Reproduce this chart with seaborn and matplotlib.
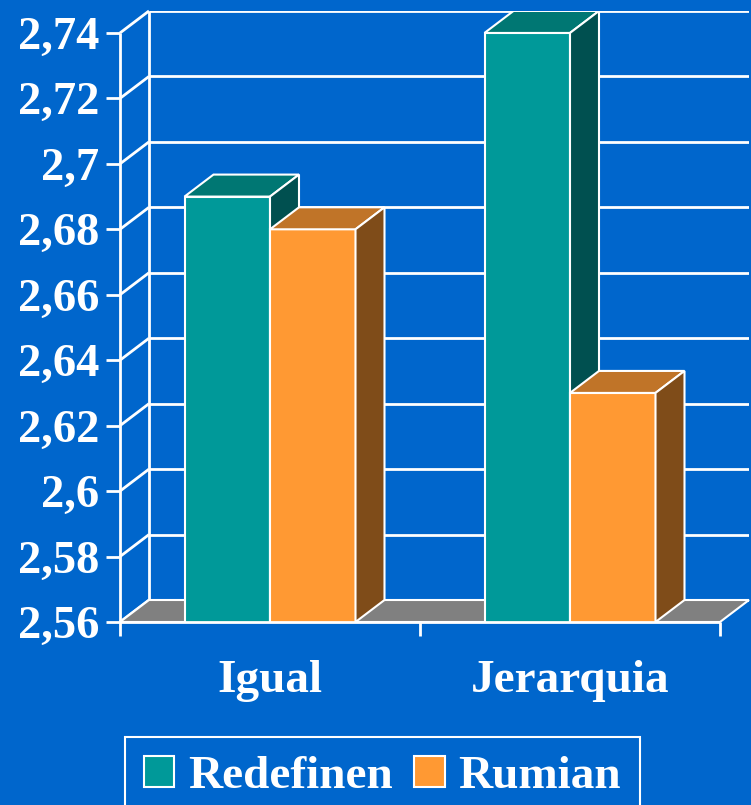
import numpy as np
import pandas as pd
import seaborn as sns
import matplotlib.pyplot as plt
from matplotlib.patches import Polygon, Patch

# data
categories = ['Igual', 'Jerarquia']
series = ['Redefinen', 'Rumian']
redefinen = [2.69, 2.74]
rumian = [2.68, 2.63]
yticks = [2.56, 2.58, 2.60, 2.62, 2.64, 2.66, 2.68, 2.70, 2.72, 2.74]
ytick_labels = ['2,56', '2,58', '2,6', '2,62', '2,64', '2,66', '2,68', '2,7', '2,72', '2,74']

bg = '#0066CC'
front_col = {'Redefinen': '#009999', 'Rumian': '#FF9933'}
top_col = {'Redefinen': '#007773', 'Rumian': '#C07428'}
side_col = {'Redefinen': '#005050', 'Rumian': '#7F4C19'}

df = pd.DataFrame({
    'cat': categories * 2,
    'serie': [series[0]] * 2 + [series[1]] * 2,
    'val': redefinen + rumian,
})

font = {'family': 'Liberation Serif', 'weight': 'bold'}

fig = plt.figure(figsize=(7.51, 8.05), dpi=100, facecolor=bg)
ax = fig.add_axes([120 / 751, (805 - 622) / 805, (749 - 120) / 751, (622 - 11) / 805])
ax.set_facecolor(bg)

sns.barplot(data=df, x='cat', y='val', hue='serie', palette=front_col, width=0.57,
            saturation=1, edgecolor='white', linewidth=1.5, ax=ax, legend=False)

# pseudo 3d: depth offset in data units
ymin, ymax = 2.56, 2.74
xpx, ypx = 300.0, 3272.5
dx, dy = 29 / xpx, 22 / ypx
x0 = -0.5
x1 = 1.5
ax.set_xlim(x0, x0 + 629 / xpx)
ax.set_ylim(ymin, ymin + 611 / ypx)

w = dict(color='white', lw=2, solid_capstyle='butt')
# back wall + left wall gridlines
for t in yticks:
    ax.plot([x0 + dx, x1 + dx], [t + dy, t + dy], zorder=0.5, **w)
    ax.plot([x0, x0 + dx], [t, t + dy], zorder=0.5, clip_on=False, **w)
ax.plot([x0 + dx, x0 + dx], [ymin + dy, ymax + dy], zorder=0.5, **w)

# floor
ax.add_patch(Polygon([(x0, ymin), (x1, ymin), (x1 + dx, ymin + dy), (x0 + dx, ymin + dy)],
                     closed=True, fc='#808080', ec='white', lw=1.5, zorder=0.8, clip_on=False))

# bar tops and sides
for i, p in enumerate(ax.patches[:4]):
    s = series[i // 2]
    z = 2 + i // 2
    p.set_zorder(z)
    bx0 = p.get_x()
    bx1 = bx0 + p.get_width()
    v = p.get_height()
    ax.add_patch(Polygon([(bx0, v), (bx1, v), (bx1 + dx, v + dy), (bx0 + dx, v + dy)],
                         closed=True, fc=top_col[s], ec='white', lw=1.5, zorder=z))
    ax.add_patch(Polygon([(bx1, ymin), (bx1, v), (bx1 + dx, v + dy), (bx1 + dx, ymin + dy)],
                         closed=True, fc=side_col[s], ec='white', lw=1.5, zorder=z))

# front axes lines
ax.plot([x0, x0], [ymin, ymax], zorder=5, clip_on=False, **w)
ax.plot([x0, x1], [ymin, ymin], zorder=5, clip_on=False, **w)

for sp in ax.spines.values():
    sp.set_visible(False)

ax.set_yticks(yticks, ytick_labels)
ax.tick_params(axis='y', length=10, width=2, color='white', pad=5, labelcolor='white', labelsize=33.5)
ax.set_xticks([0, 1], categories)
ax.set_xticks([x0, 0.5, x1], minor=True)
ax.tick_params(axis='x', which='major', length=0, pad=27, labelcolor='white', labelsize=34)
ax.tick_params(axis='x', which='minor', length=10, width=2, color='white')
for lab in ax.get_yticklabels() + ax.get_xticklabels():
    lab.set_fontfamily('Liberation Serif')
    lab.set_fontweight('bold')
ax.set_xlabel('')
ax.set_ylabel('')

handles = [Patch(fc=front_col[s], ec='white', lw=1.5) for s in series]
leg = fig.legend(handles=handles, labels=series, loc='upper left',
                 bbox_to_anchor=(125 / 751, 1 - 737 / 805), ncol=2,
                 prop=dict(font, size=34), labelcolor='white',
                 facecolor=bg, edgecolor='white', framealpha=1, fancybox=False,
                 handlelength=0.64, handleheight=0.64, handletextpad=0.3,
                 columnspacing=0.45, borderpad=0.4, borderaxespad=0)
leg.get_frame().set_linewidth(1.5)

fig.savefig('out.png', dpi=100, facecolor=bg)
